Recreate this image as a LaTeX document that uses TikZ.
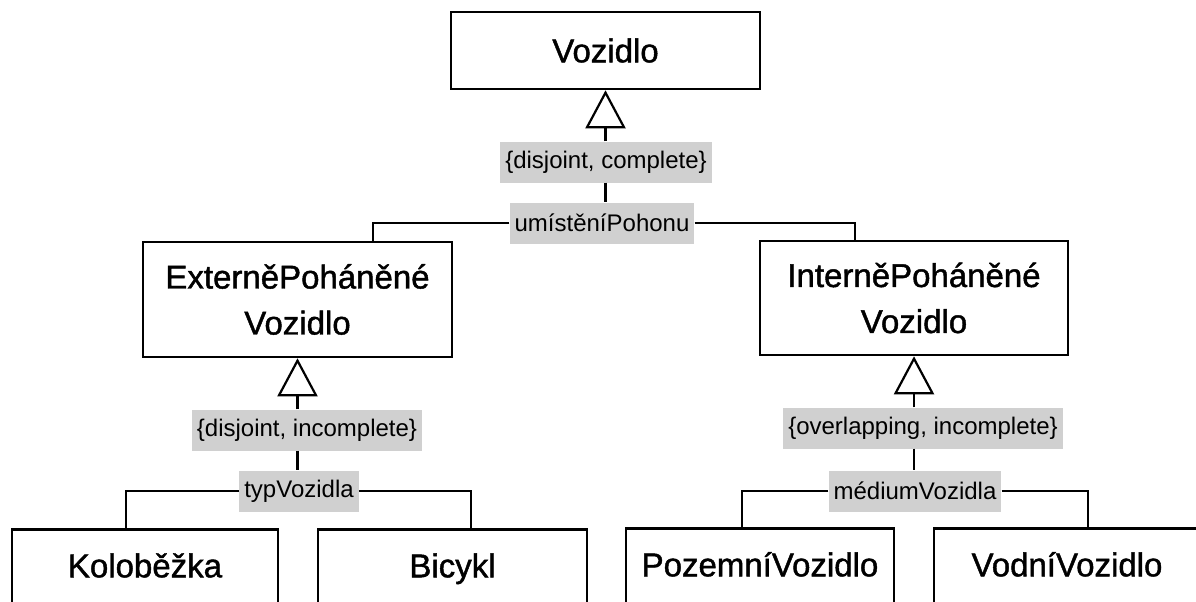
\documentclass[tikz,border=0pt]{standalone}
\usepackage{fontspec}
\setmainfont{Liberation Sans}
\newfontfamily\classfont[FakeBold=1.3]{Liberation Sans}
\usetikzlibrary{arrows.meta}

\definecolor{r208g208b208}{rgb}{0.815686,0.815686,0.815686}
\tikzset{
  classbox/.style={draw, line width=2.6pt, align=center, inner sep=0pt, font=\classfont\fontsize{33}{46}\selectfont},
  cutbox/.style={classbox, anchor=north, text height=48pt, text depth=40pt},
  constraint/.style={fill=r208g208b208, inner xsep=5pt, inner ysep=0pt, minimum height=41pt, font=\fontsize{24}{28}\selectfont},
  gen/.style={line width=2.2pt, -{Triangle[open, length=38pt, width=40pt]}},
  link/.style={line width=2.2pt}
}

\begin{document}
\begin{tikzpicture}[x=1pt, y=-1pt]
                        \useasboundingbox (0,0) rectangle (1196,602);
                        \clip (0,0) rectangle (1196,602);
                        {

                        % Drawing class Vozidlo
                        \node [classbox, minimum width=309pt, minimum height=77pt] (vozidlo) at (605.5,50.5) {Vozidlo};%

                        % Marking constraints under Vozidlo
                        \node [constraint] (disjcompl) at (606,162) {\{disjoint, complete\}};%
                        \node [constraint] (umisteni) at (602,223) {umístěníPohonu};%

                        % Drawing classes of level 2
                        \node [classbox, minimum width=309pt, minimum height=115pt] (externe) at (297.5,299.5) {ExterněPoháněné\\Vozidlo};%
                        \node [classbox, minimum width=308pt, minimum height=114pt] (interne) at (914,298) {InterněPoháněné\\Vozidlo};%

                        % Marking constraints of level 2
                        \node [constraint] (disjincompl) at (307,430) {\{disjoint, incomplete\}};%
                        \node [constraint] (typ) at (299,491) {typVozidla};%
                        \node [constraint] (overlincompl) at (923,428) {\{overlapping, incomplete\}};%
                        \node [constraint] (medium) at (915,491) {médiumVozidla};%

                        % Drawing classes of level 3 (cut by page)
                        \node [cutbox, minimum width=266pt] (kolobezka) at (145,528) {Koloběžka};%
                        \node [cutbox, minimum width=269pt] (bicykl) at (452.5,528) {Bicykl};%
                        \node [cutbox, minimum width=268pt] (pozemni) at (760,527) {PozemníVozidlo};%
                        \node [cutbox, minimum width=266pt] (vodni) at (1067,527) {VodníVozidlo};%

                        % Drawing generalization Vozidlo
                        \draw [gen] (disjcompl.north -| vozidlo.south) -- (vozidlo.south);%
                        \draw [link] (disjcompl.south -| vozidlo.south) -- (umisteni.north -| vozidlo.south);%
                        \draw [link] (umisteni.west) -| ([xshift=75.5pt]externe.north);%
                        \draw [link] (umisteni.east) -| ([xshift=-59pt]interne.north);%

                        % Drawing generalization ExterněPoháněné
                        \draw [gen] (disjincompl.north -| externe.south) -- (externe.south);%
                        \draw [link] (disjincompl.south -| externe.south) -- (typ.north -| externe.south);%
                        \draw [link] (typ.west) -| ([xshift=-19pt]kolobezka.north);%
                        \draw [link] (typ.east) -| ([xshift=18.5pt]bicykl.north);%

                        % Drawing generalization InterněPoháněné
                        \draw [gen] (overlincompl.north -| interne.south) -- (interne.south);%
                        \draw [link] (overlincompl.south -| interne.south) -- (medium.north -| interne.south);%
                        \draw [link] (medium.west) -| ([xshift=-18pt]pozemni.north);%
                        \draw [link] (medium.east) -| ([xshift=21pt]vodni.north);%
                        }
\end{tikzpicture}
\end{document}
